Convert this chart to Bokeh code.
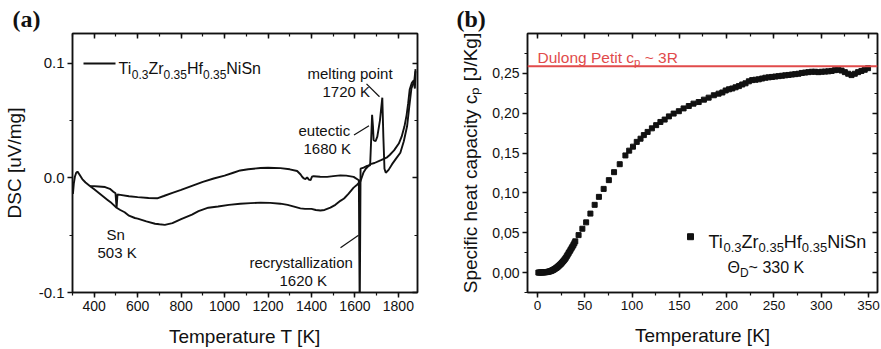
import math
from bokeh.plotting import figure
from bokeh.layouts import row
from bokeh.models import (Range1d, LinearAxis, SingleIntervalTicker,
                          CustomJSTickFormatter, Label, Span, Title)
from bokeh.embed import file_html
from bokeh.resources import INLINE

# ---------------- data ----------------
# (a) DSC trace, heating part
heat_T = [302, 306, 311, 317, 323, 332, 345, 360, 380, 420, 450, 472, 488, 498, 503,
          507, 520, 560, 600, 650, 690, 720, 760, 800, 850, 900, 950, 1000, 1040, 1072,
          1109, 1165, 1200, 1257, 1300, 1334, 1350, 1357, 1365, 1372, 1380, 1388, 1396,
          1402, 1410, 1440, 1472, 1500, 1533, 1560, 1594, 1618, 1622, 1626, 1640, 1656,
          1670, 1674, 1679, 1683, 1686, 1695, 1703, 1715, 1726, 1731, 1736, 1742, 1755,
          1771, 1790, 1809, 1825, 1840, 1850, 1860, 1868, 1874, 1879]
heat_dsc = [-0.014, -0.005, 0.001, 0.0045, 0.0055, 0.003, -0.001, -0.004, -0.007, -0.0075,
            -0.008, -0.0095, -0.012, -0.0135, -0.026, -0.0145, -0.0148, -0.016, -0.0168,
            -0.0175, -0.0178, -0.0158, -0.013, -0.0105, -0.007, -0.0035, -0.0005, 0.002,
            0.0045, 0.0065, 0.0076, 0.0086, 0.0088, 0.0085, 0.0075, 0.006, 0.003, 0.001,
            -0.0005, -0.001, 0.0005, -0.0015, -0.002, 0.001, 0.0015, 0.001, 0.0009, 0.0015,
            0.0022, 0.002, 0.0009, -0.002, -0.12, 0.008, 0.009, 0.0105, 0.011, 0.03, 0.055,
            0.045, 0.033, 0.032, 0.036, 0.05, 0.07, 0.035, 0.008, 0.0045, 0.007, 0.012,
            0.017, 0.022, 0.032, 0.045, 0.062, 0.078, 0.082, 0.086, 0.095]
# (a) DSC trace, cooling part
cool_T = [1879, 1876, 1870, 1862, 1852, 1845, 1838, 1828, 1815, 1802, 1780, 1760, 1748,
          1720, 1690, 1671, 1650, 1640, 1625, 1610, 1594, 1570, 1550, 1533, 1510, 1487,
          1460, 1441, 1420, 1400, 1370, 1349, 1320, 1290, 1257, 1210, 1165, 1120, 1072,
          1020, 970, 925, 880, 850, 800, 760, 725, 700, 680, 640, 600, 587, 560, 540, 520,
          503, 480, 460, 420, 400, 380]
cool_dsc = [0.093, 0.078, 0.085, 0.083, 0.077, 0.065, 0.055, 0.045, 0.036, 0.030, 0.024,
            0.020, 0.018, 0.0155, 0.013, 0.012, 0.008, 0.005, -0.003, -0.006, -0.0085,
            -0.014, -0.018, -0.020, -0.0235, -0.026, -0.028, -0.0284, -0.028, -0.027,
            -0.027, -0.0266, -0.025, -0.0235, -0.0225, -0.0218, -0.0216, -0.022, -0.0225,
            -0.0235, -0.025, -0.026, -0.029, -0.032, -0.036, -0.0395, -0.041, -0.0405,
            -0.040, -0.038, -0.0355, -0.035, -0.033, -0.030, -0.028, -0.026, -0.022,
            -0.019, -0.013, -0.010, -0.007]

# (b) specific heat capacity
cp_T = [1, 2, 3, 4, 5, 6, 7, 8, 9, 10, 11, 12, 13, 14, 15, 16, 17, 18, 19, 20,
        21, 22, 23, 24, 25, 26, 27, 28, 29, 30, 31, 32, 33, 34, 35, 36, 37, 38, 39, 40,
        43.5, 47.5, 51.5, 56, 60.5, 65, 70, 75.5, 81, 87, 93, 97, 101, 105, 109, 112.5,
        116.5, 121, 125.5, 130, 134.5, 139, 144, 149.5, 154.5, 160, 165, 170.5, 176, 181,
        186.5, 191.5, 195.5, 199, 202.5, 206, 209.5, 213, 216.5, 220, 223.5, 227, 230.5,
        234, 237.5, 241, 244.5, 248, 251.5, 255, 258.5, 262, 265.5, 269, 272.5, 276,
        279.5, 283, 286.5, 290, 293.5, 297, 300.5, 304, 307.5, 311, 314.5, 318, 321.5,
        325, 328.5, 332, 335.5, 339, 342.5, 346, 349.5]
cp_val = [0.0, 0.0, 0.0001, 0.0001, 0.0002, 0.0002, 0.0003, 0.0004, 0.0005, 0.0007,
          0.0009, 0.0012, 0.0015, 0.0019, 0.0024, 0.0030, 0.0036, 0.0043, 0.0051, 0.0059,
          0.0068, 0.0078, 0.0089, 0.0100, 0.0112, 0.0125, 0.0139, 0.0153, 0.0168, 0.0185,
          0.0205, 0.0225, 0.0245, 0.0265, 0.0285, 0.0305, 0.0325, 0.0345, 0.0368, 0.0392,
          0.047, 0.055, 0.063, 0.074, 0.085, 0.095, 0.105, 0.116, 0.126, 0.136, 0.147,
          0.153, 0.158, 0.164, 0.168, 0.1725, 0.1765, 0.181, 0.185, 0.189, 0.192, 0.196,
          0.1995, 0.2025, 0.206, 0.209, 0.212, 0.214, 0.217, 0.2195, 0.2225, 0.2245,
          0.226, 0.2285, 0.230, 0.231, 0.2325, 0.234, 0.236, 0.2375, 0.240, 0.2415, 0.242,
          0.2425, 0.2435, 0.2445, 0.245, 0.2455, 0.246, 0.2465, 0.247, 0.2475, 0.248,
          0.2485, 0.249, 0.2495, 0.2505, 0.251, 0.2515, 0.252, 0.252, 0.2515, 0.252,
          0.2522, 0.2525, 0.253, 0.254, 0.2545, 0.2535, 0.2515, 0.2495, 0.2478, 0.2495,
          0.2515, 0.253, 0.2545, 0.2565]
dulong_petit = 0.259

compound = [("Ti", 0), ("0.3", 1), ("Zr", 0), ("0.35", 1), ("Hf", 0), ("0.35", 1), ("NiSn", 0)]

# ---------------- styling helpers ----------------
FONT = "Liberation Sans"
SERIF = "Liberation Serif"
INK = "#111111"
RED = "#e14b4b"

W = {' ': .278, '.': .278, ',': .278, 'T': .611, 'i': .222, 'Z': .611, 'r': .333,
     'H': .722, 'f': .278, 'N': .722, 'S': .667, 'n': .556, 'Θ': .778, 'D': .722,
     '~': .584, 'K': .667, 'c': .5, 'p': .556, 'e': .556, 'a': .556, 't': .278,
     'y': .5, 'h': .556, '[': .278, ']': .278, 'J': .5, '/': .278, 'g': .556,
     'u': .556, 'l': .222, 'o': .556, 'P': .667, 'R': .722}


def tw(s, size):
    return sum(W.get(ch, .556) for ch in s) * size


class Frame:
    def __init__(self, left, top, w, h, xr, yr):
        self.left, self.top, self.w, self.h, self.xr, self.yr = left, top, w, h, xr, yr

    def x(self, px):
        return self.xr[0] + (px - self.left) / self.w * (self.xr[1] - self.xr[0])

    def y(self, py):
        return self.yr[1] - (py - self.top) / self.h * (self.yr[1] - self.yr[0])


def label(p, fr, px, py, text, size, color=INK, align="left"):
    p.add_layout(Label(x=fr.x(px), y=fr.y(py), text=text, text_font=FONT,
                       text_font_size=f"{size}px", text_color=color, text_align=align,
                       text_baseline="alphabetic"))


def rich(p, fr, px, py, parts, size, sub, drop, color=INK):
    x = px
    for text, is_sub in parts:
        s = sub if is_sub else size
        lead = len(text) - len(text.lstrip(" "))
        x += lead * W[' '] * s
        body = text.strip(" ")
        label(p, fr, x, py + (drop if is_sub else 0), body, s, color)
        x += tw(body, s)


def style_axis(ax):
    ax.axis_line_color = INK
    ax.axis_line_width = 1.5
    ax.major_tick_line_color = INK
    ax.major_tick_line_width = 1.5
    ax.minor_tick_line_color = INK
    ax.minor_tick_line_width = 1.2


def make_fig(width, ml, mr, xr, yr, xint, yint, xfmt, yfmt, xsize, ysize,
             xlabel, ylabel, ylabel_standoff, letter, letter_offset):
    p = figure(width=width, height=349, x_range=Range1d(*xr), y_range=Range1d(*yr),
               output_backend="svg", toolbar_location=None,
               min_border_left=ml, min_border_right=mr, min_border_top=33,
               min_border_bottom=56)
    p.xgrid.visible = False
    p.ygrid.visible = False
    p.outline_line_color = INK
    p.outline_line_width = 1.5
    p.background_fill_color = "white"
    p.border_fill_color = "white"
    xt = SingleIntervalTicker(interval=xint, num_minor_ticks=2)
    yt = SingleIntervalTicker(interval=yint, num_minor_ticks=2)
    p.xaxis.ticker = xt
    p.yaxis.ticker = yt
    p.xaxis.formatter = xfmt
    p.yaxis.formatter = yfmt
    for ax, sz in ((p.xaxis, xsize), (p.yaxis, ysize)):
        style_axis(ax)
        ax.major_tick_in = 0
        ax.major_tick_out = 5
        ax.minor_tick_in = 0
        ax.minor_tick_out = 3
        ax.major_label_text_font = FONT
        ax.major_label_text_font_size = f"{sz}px"
        ax.major_label_text_color = INK
        ax.major_label_standoff = 3
        ax.axis_label_text_font = FONT
        ax.axis_label_text_font_size = "19px"
        ax.axis_label_text_font_style = "normal"
        ax.axis_label_text_color = INK
    p.xaxis.axis_label = xlabel
    p.xaxis.axis_label_standoff = 12
    p.yaxis.axis_label = ylabel
    p.yaxis.axis_label_standoff = ylabel_standoff
    blank = CustomJSTickFormatter(code="return ''")
    for loc, tk in (("above", xt), ("right", yt)):
        ax = LinearAxis(ticker=tk, formatter=blank)
        style_axis(ax)
        ax.major_tick_in = 5
        ax.major_tick_out = 0
        ax.minor_tick_in = 3
        ax.minor_tick_out = 0
        ax.major_label_text_font_size = "0px"
        ax.major_label_standoff = 0
        ax.axis_label_standoff = 0
        p.add_layout(ax, loc)
    p.add_layout(Title(text=letter, text_font=SERIF, text_font_size="24px",
                       text_font_style="bold", text_color=INK, align="left",
                       vertical_align="top", offset=letter_offset, standoff=0), "above")
    return p


# ---------------- panel (a) ----------------
xa, ya = (300, 1888), (-0.1, 0.126)
fa = Frame(72, 33, 345, 260, xa, ya)
pa = make_fig(445, 72, 28, xa, ya, 200, 0.1,
              CustomJSTickFormatter(code="return tick.toFixed(0)"),
              CustomJSTickFormatter(code="return Math.abs(tick) < 1e-9 ? '0.0' : tick.toFixed(1)"),
              14, 15, "Temperature T [K]", "DSC [uV/mg]", 11, "(a)", -60)
pa.line(heat_T, heat_dsc, line_color=INK, line_width=1.9)
pa.line(cool_T, cool_dsc, line_color=INK, line_width=1.9)

# legend
pa.line([fa.x(83), fa.x(115)], [fa.y(63), fa.y(63)], line_color=INK, line_width=2)
rich(pa, fa, 118, 68, compound, 16, 12, 6)

# annotations
label(pa, fa, 307, 73, "melting point", 15)
label(pa, fa, 322, 91, "1720 K", 15)
label(pa, fa, 298, 130, "eutectic", 15)
label(pa, fa, 303, 148, "1680 K", 15)
label(pa, fa, 106, 235, "Sn", 15)
label(pa, fa, 97, 253, "503 K", 15)
label(pa, fa, 249, 263, "recrystallization", 15)
label(pa, fa, 279, 281, "1620 K", 15)
for (x0, y0, x1, y1) in ((366, 83.5, 379, 96.5), (353.5, 135, 368.5, 125.5), (340, 248, 358, 235.5)):
    pa.line([fa.x(x0), fa.x(x1)], [fa.y(y0), fa.y(y1)], line_color=INK, line_width=1.2)

# ---------------- panel (b) ----------------
xb, yb = (-10.5, 359.5), (-0.025, 0.30)
fb = Frame(527, 33, 350, 260, xb, yb)
pb = make_fig(436, 82, 4, xb, yb, 50, 0.05,
              CustomJSTickFormatter(code="return tick.toFixed(0)"),
              CustomJSTickFormatter(code="var t = Math.abs(tick) < 1e-9 ? 0 : tick; return t.toFixed(2).replace('.', ',')"),
              13.5, 14, "Temperature [K]", "Specific heat capacity c\u209a [J/Kg]", 8, "(b)", -71)
pb.add_layout(Span(location=dulong_petit, dimension="width", line_color=RED, line_width=2))
pb.scatter(cp_T, cp_val, marker="square", size=5, color=INK)

rich(pb, fb, 537, 57, [("Dulong Petit c", 0), ("p", 1), (" ~ 3R", 0)], 15.5, 11.5, 5, color=RED)

# legend
pb.scatter([fb.x(690)], [fb.y(237)], marker="square", size=6, color=INK)
rich(pb, fb, 708, 242, compound, 18, 13, 6)
rich(pb, fb, 727, 268, [("Θ", 0), ("D", 1), ("~ 330 K", 0)], 16, 12, 5)

layout = row(pa, pb)
open("out.html", "w").write(file_html(layout, INLINE))
